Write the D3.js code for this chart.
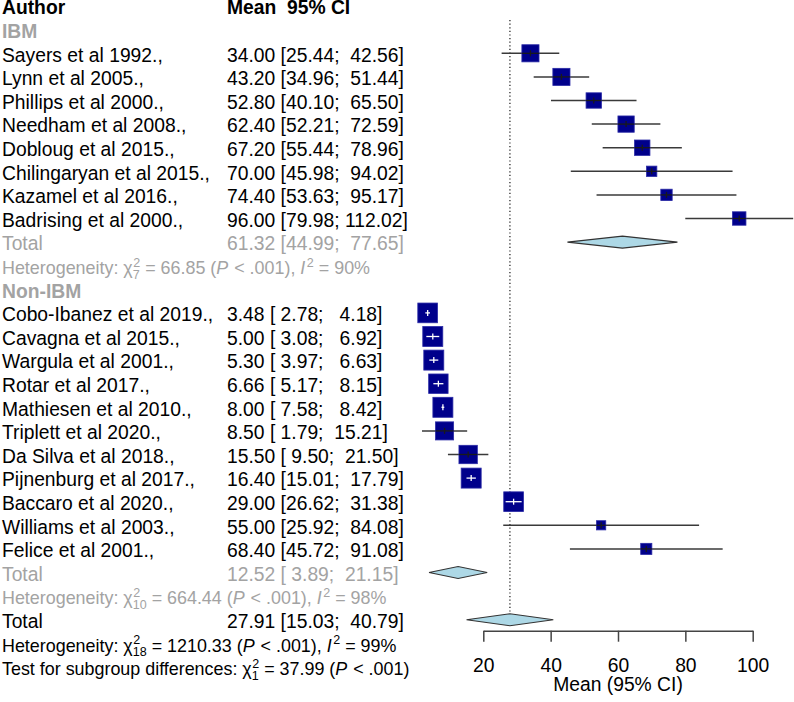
<!DOCTYPE html>
<html>
<head>
<meta charset="utf-8">
<script src="https://cdn.jsdelivr.net/npm/d3@7/dist/d3.min.js"></script>
<style>
  html, body { margin: 0; padding: 0; background: #fff; }
  svg text { font-family: "Liberation Sans", Arial, Helvetica, sans-serif; white-space: pre; }
</style>
</head>
<body>
<svg id="chart" width="794" height="702"></svg>
<script>
// ---------------- DATA ----------------
const ibmAuthors = ["Sayers et al 1992.,", "Lynn et al 2005.,", "Phillips et al 2000.,", "Needham et al 2008.,",
  "Dobloug et al 2015.,", "Chilingaryan et al 2015.,", "Kazamel et al 2016.,", "Badrising et al 2000.,"];
const ibmMean  = [34.00, 43.20, 52.80, 62.40, 67.20, 70.00, 74.40, 96.00];
const ibmLower = [25.44, 34.96, 40.10, 52.21, 55.44, 45.98, 53.63, 79.98];
const ibmUpper = [42.56, 51.44, 65.50, 72.59, 78.96, 94.02, 95.17, 112.02];
const ibmWeight = [5.2, 5.2, 4.2, 4.7, 4.2, 1.9, 2.3, 3.2];

const nonAuthors = ["Cobo-Ibanez et al 2019.,", "Cavagna et al 2015.,", "Wargula et al 2001.,", "Rotar et al 2017.,",
  "Mathiesen et al 2010.,", "Triplett et al 2020.,", "Da Silva et al 2018.,", "Pijnenburg et al 2017.,",
  "Baccaro et al 2020.,", "Williams et al 2003.,", "Felice et al 2001.,"];
const nonMean  = [3.48, 5.00, 5.30, 6.66, 8.00, 8.50, 15.50, 16.40, 29.00, 55.00, 68.40];
const nonLower = [2.78, 3.08, 3.97, 5.17, 7.58, 1.79, 9.50, 15.01, 26.62, 25.92, 45.72];
const nonUpper = [4.18, 6.92, 6.63, 8.15, 8.42, 15.21, 21.50, 17.79, 31.38, 84.08, 91.08];
const nonWeight = [6.9, 7.1, 7.1, 6.7, 7.1, 5.8, 6.0, 7.1, 6.9, 1.5, 2.2];

const groupNames = ["IBM", "Non-IBM"];
const pooledMean  = [61.32, 12.52, 27.91];   // IBM, Non-IBM, overall
const pooledLower = [44.99, 3.89, 15.03];
const pooledUpper = [77.65, 21.15, 40.79];
const hetDf   = ["7", "10", "18"];
const hetChi  = ["66.85", "664.44", "1210.33"];
const hetI2   = ["90%", "98%", "99%"];
const subgroupDf = "1";
const subgroupChi = "37.99";
const axisTicks = [20, 40, 60, 80, 100];
const axisTitle = "Mean (95% CI)";

// ---------------- LAYOUT ----------------
const FS = 19.3;
const HFS = 17.9;
const GRAY = "#a3a3a3";
const svg = d3.select("#chart");
const rowY = i => 6.1 + 23.6 * i;
const baseOff = 8.3;
const xAuthor = 2, xEst = 227;

const x = d3.scaleLinear().domain([20, 100]).range([483.3, 752.7]);
const sq = d3.scaleSqrt().domain([0, 7.1]).range([0, 20]);

const fmt = v => v.toFixed(2);
const pad = (s, n) => s.length >= n ? s : " ".repeat(n - s.length) + s;
const ciText = (m, l, u) => fmt(m) + " [" + pad(fmt(l), 5) + "; " + pad(fmt(u), 6) + "]";

function txt(xp, row, s, opts = {}) {
  return svg.append("text")
    .attr("x", xp).attr("y", rowY(row) + baseOff)
    .attr("xml:space", "preserve")
    .attr("font-size", opts.size || FS)
    .attr("font-weight", opts.bold ? "bold" : "normal")
    .attr("fill", opts.color || "#000")
    .text(s);
}

// rich text with sup/sub stacks
function rich(xp, row, segs, color) {
  let cx = xp;
  const by = rowY(row) + baseOff;
  const small = HFS * 0.7;
  segs.forEach(sg => {
    if (sg.t !== undefined) {
      const t = svg.append("text").attr("x", cx).attr("y", by)
        .attr("xml:space", "preserve")
        .attr("font-size", HFS).attr("fill", color)
        .attr("font-style", sg.it ? "italic" : "normal")
        .text(sg.t);
      cx += t.node().getComputedTextLength() + (sg.it ? 1 : 0);
    } else {
      let w = 0;
      if (sg.sup) {
        const t = svg.append("text").attr("x", cx + 0.5).attr("y", by - 7.5)
          .attr("font-size", small).attr("fill", color).text(sg.sup);
        w = Math.max(w, t.node().getComputedTextLength() + 0.5);
      }
      if (sg.sub) {
        const t = svg.append("text").attr("x", cx).attr("y", by + 4.5)
          .attr("font-size", small).attr("fill", color).text(sg.sub);
        w = Math.max(w, t.node().getComputedTextLength());
      }
      cx += w;
    }
  });
}

// header
txt(xAuthor, 0, "Author", { bold: true });
txt(xEst, 0, "Mean  95% CI", { bold: true });

// reference dotted line
svg.append("line")
  .attr("x1", x(pooledMean[2])).attr("x2", x(pooledMean[2]))
  .attr("y1", 20).attr("y2", rowY(26) - 6)
  .attr("stroke", "#000").attr("stroke-width", 1.1)
  .attr("stroke-dasharray", "1.2,2.4");

function drawStudy(row, name, m, l, u, w) {
  txt(xAuthor, row, name);
  txt(xEst, row, ciText(m, l, u));
  const cy = rowY(row);
  const s = sq(w);
  const cx = x(m);
  svg.append("line").attr("x1", x(l)).attr("x2", x(u)).attr("y1", cy).attr("y2", cy)
    .attr("stroke", "#3a3a3a").attr("stroke-width", 1.5);
  svg.append("rect").attr("x", cx - s / 2).attr("y", cy - s / 2).attr("width", s).attr("height", s)
    .attr("fill", "#00008b").attr("stroke", "#2a2aa6").attr("stroke-width", 0.8);
  const inside = x(l) > cx - s / 2 && x(u) < cx + s / 2;
  const col = inside ? "#ffffff" : "#1a1a1a";
  const xl = Math.max(x(l), cx - s / 2), xu = Math.min(x(u), cx + s / 2);
  svg.append("line").attr("x1", xl).attr("x2", xu).attr("y1", cy).attr("y2", cy)
    .attr("stroke", col).attr("stroke-width", 1.3);
  svg.append("line").attr("x1", cx).attr("x2", cx).attr("y1", cy - 3).attr("y2", cy + 3)
    .attr("stroke", col).attr("stroke-width", 1.3);
}

function diamond(row, m, l, u) {
  const cy = rowY(row), h = 6;
  svg.append("path")
    .attr("d", `M${x(l)},${cy}L${x(m)},${cy - h}L${x(u)},${cy}L${x(m)},${cy + h}Z`)
    .attr("fill", "#add8e6").attr("stroke", "#333").attr("stroke-width", 1.1);
}

// IBM group
txt(xAuthor, 1, groupNames[0], { bold: true, color: GRAY });
ibmAuthors.forEach((a, i) => drawStudy(2 + i, a, ibmMean[i], ibmLower[i], ibmUpper[i], ibmWeight[i]));
txt(xAuthor, 10, "Total", { color: GRAY });
txt(xEst, 10, ciText(pooledMean[0], pooledLower[0], pooledUpper[0]), { color: GRAY });
diamond(10, pooledMean[0], pooledLower[0], pooledUpper[0]);
rich(xAuthor, 11, [{ t: "Heterogeneity: χ" }, { sup: "2", sub: hetDf[0] }, { t: " = " + hetChi[0] + " (" },
  { t: "P", it: true }, { t: " < .001), " }, { t: "I", it: true }, { sup: "2" }, { t: " = " + hetI2[0] }], GRAY);

// Non-IBM group
txt(xAuthor, 12, groupNames[1], { bold: true, color: GRAY });
nonAuthors.forEach((a, i) => drawStudy(13 + i, a, nonMean[i], nonLower[i], nonUpper[i], nonWeight[i]));
txt(xAuthor, 24, "Total", { color: GRAY });
txt(xEst, 24, ciText(pooledMean[1], pooledLower[1], pooledUpper[1]), { color: GRAY });
diamond(24, pooledMean[1], pooledLower[1], pooledUpper[1]);
rich(xAuthor, 25, [{ t: "Heterogeneity: χ" }, { sup: "2", sub: hetDf[1] }, { t: " = " + hetChi[1] + " (" },
  { t: "P", it: true }, { t: " < .001), " }, { t: "I", it: true }, { sup: "2" }, { t: " = " + hetI2[1] }], GRAY);

// Overall
txt(xAuthor, 26, "Total");
txt(xEst, 26, ciText(pooledMean[2], pooledLower[2], pooledUpper[2]));
diamond(26, pooledMean[2], pooledLower[2], pooledUpper[2]);
rich(xAuthor, 27, [{ t: "Heterogeneity: χ" }, { sup: "2", sub: hetDf[2] }, { t: " = " + hetChi[2] + " (" },
  { t: "P", it: true }, { t: " < .001), " }, { t: "I", it: true }, { sup: "2" }, { t: " = " + hetI2[2] }], "#000");
rich(xAuthor, 28, [{ t: "Test for subgroup differences: χ" }, { sup: "2", sub: subgroupDf },
  { t: " = " + subgroupChi + " (" }, { t: "P", it: true }, { t: " < .001)" }], "#000");

// axis
const axisG = svg.append("g").attr("transform", "translate(0,630.7)")
  .call(d3.axisBottom(x).tickValues(axisTicks).tickSize(11).tickSizeOuter(0).tickPadding(17));
axisG.select(".domain").attr("stroke", "#444").attr("stroke-width", 1.5);
axisG.selectAll(".tick line").attr("stroke", "#444").attr("stroke-width", 1.5);
axisG.selectAll(".tick text").attr("font-size", FS).attr("fill", "#000")
  .attr("font-family", "'Liberation Sans', Arial, sans-serif");
svg.append("text").attr("x", x(60)).attr("y", 690.5).attr("text-anchor", "middle")
  .attr("font-size", FS).text(axisTitle);
</script>
</body>
</html>
